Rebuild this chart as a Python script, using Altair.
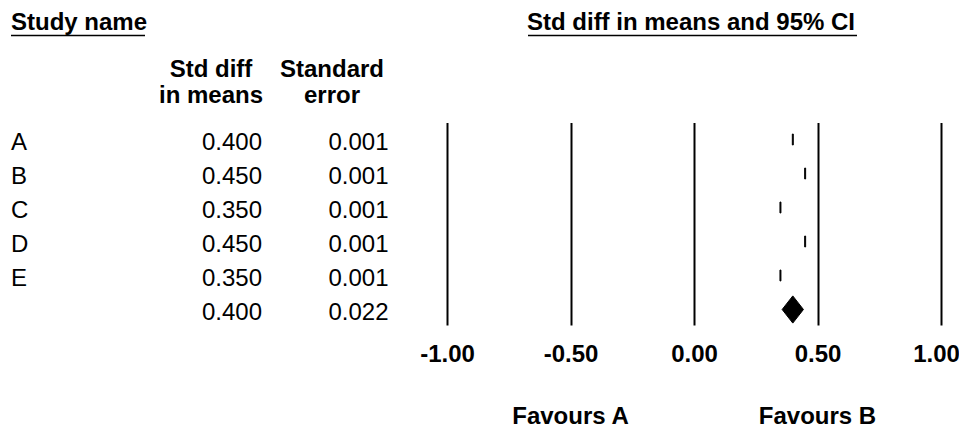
import altair as alt
import pandas as pd

# ---- data ----
studies = ["A", "B", "C", "D", "E"]
std_diff = [0.400, 0.450, 0.350, 0.450, 0.350]
std_err = [0.001, 0.001, 0.001, 0.001, 0.001]
summary_est = 0.400
summary_se = 0.022
x_ticks = [-1.0, -0.5, 0.0, 0.5, 1.0]
favours_labels = ["Favours A", "Favours B"]
favours_pos = [-0.5, 0.5]

FONT = "Liberation Sans"
FS = 24

rows = list(range(len(studies)))
study_df = pd.DataFrame({
    "row": rows,
    "name": studies,
    "est": std_diff,
    "se": std_err,
})
study_df["lo"] = study_df["est"] - 1.96 * study_df["se"]
study_df["hi"] = study_df["est"] + 1.96 * study_df["se"]
study_df["y0"] = study_df["row"] - 0.16
study_df["y1"] = study_df["row"] + 0.16

sum_row = len(studies)
table_df = pd.DataFrame({
    "row": rows + [sum_row],
    "name": studies + [""],
    "est_txt": [f"{v:.3f}" for v in std_diff] + [f"{summary_est:.3f}"],
    "se_txt": [f"{v:.3f}" for v in std_err] + [f"{summary_se:.3f}"],
})

lo_s = summary_est - 1.96 * summary_se
hi_s = summary_est + 1.96 * summary_se
diamond_df = pd.DataFrame({
    "x": [lo_s, summary_est, hi_s],
    "y": [sum_row, sum_row - 0.4, sum_row],
    "y2": [sum_row, sum_row + 0.4, sum_row],
})

fav_df = pd.DataFrame({"label": favours_labels, "pos": favours_pos})
one = pd.DataFrame({"k": [0]})

xs = alt.Scale(domain=[-1, 1], nice=False, zero=False)
ys = alt.Scale(domain=[-0.5, 5.456], reverse=True, nice=False, zero=False)
xax = alt.Axis(
    values=x_ticks, grid=True, gridColor="black", gridWidth=2, gridOpacity=1,
    domain=False, ticks=False, tickSize=0, title=None,
    labelExpr="(datum.value < 0 ? '-' : '') + format(abs(datum.value), '.2f')",
    labelFont=FONT, labelFontSize=FS, labelFontWeight="bold", labelColor="black",
    labelPadding=36, labelBaseline="alphabetic", labelFlush=False, labelOverlap=False,
    labelOffset={"condition": {"test": "datum.value >= 1", "value": -5}, "value": 0},
)

boxes = alt.Chart(study_df).mark_rect(color="black", stroke="black", strokeWidth=1).encode(
    x=alt.X("lo:Q", scale=xs, axis=xax),
    x2="hi:Q",
    y=alt.Y("y0:Q", scale=ys, axis=None),
    y2="y1:Q",
)

diamond = alt.Chart(diamond_df).mark_area(color="black", orient="vertical", stroke="black", strokeWidth=1).encode(
    x=alt.X("x:Q", scale=xs, axis=xax),
    y=alt.Y("y:Q", scale=ys, axis=None),
    y2="y2:Q",
)

def col_text(field, xpx, align):
    return alt.Chart(table_df).mark_text(
        align=align, baseline="alphabetic", dy=10.5, font=FONT, fontSize=FS, color="black"
    ).encode(
        x=alt.value(xpx),
        y=alt.Y("row:Q", scale=ys, axis=None),
        text=f"{field}:N",
    )

names = col_text("name", -436, "left")
ests = col_text("est_txt", -185, "right")
ses = col_text("se_txt", -58.5, "right")

def header(text, xpx, ypx, align="center"):
    return alt.Chart(one).mark_text(
        text=text, align=align, baseline="alphabetic", font=FONT, fontSize=FS,
        fontWeight="bold", color="black", lineHeight=26.6,
    ).encode(x=alt.value(xpx), y=alt.value(ypx))

h_study = header("Study name", -436, -92.5, "left")
h_forest = header("Std diff in means and 95% CI", 244, -92.5, "center")
h_est = header(["Std diff", "in means"], -236, -45.8)
h_se = header(["Standard", "error"], -115, -45.8)

def underline(x1, x2):
    return alt.Chart(one).mark_rule(color="black", strokeWidth=1.5).encode(
        x=alt.value(x1), x2=alt.value(x2), y=alt.value(-87)
    )

u1 = underline(-436, -302)
u2 = underline(81, 410)

fav = alt.Chart(fav_df).mark_text(
    align="center", baseline="alphabetic", font=FONT, fontSize=FS, fontWeight="bold", color="black"
).encode(
    x=alt.X("pos:Q", scale=xs, axis=xax),
    y=alt.value(301.5),
    text="label:N",
)

chart = alt.layer(
    boxes, diamond, names, ests, ses, h_study, h_forest, h_est, h_se, u1, u2, fav
).properties(
    width=494,
    height=202.5,
    padding={"left": 439, "top": 114.5, "right": 18, "bottom": 103},
    autosize=alt.AutoSizeParams(type="none"),
).configure_view(stroke=None)

chart.save("out.html", embed_options={"renderer": "svg", "actions": False})
